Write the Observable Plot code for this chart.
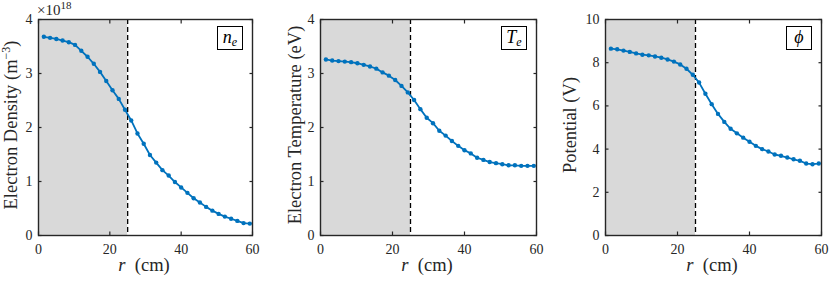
<!DOCTYPE html>
<html><head><meta charset="utf-8">
<script src="https://cdn.jsdelivr.net/npm/d3@7"></script>
<script src="https://cdn.jsdelivr.net/npm/@observablehq/plot@0.6"></script>
<style>
body{margin:0;background:#fff;}
#wrap{position:relative;width:830px;height:281px;font-family:"Liberation Serif","DejaVu Serif",serif;color:#262626;overflow:hidden;}
.pl{position:absolute;top:0;}
.xl{position:absolute;white-space:nowrap;font-size:18.5px;line-height:18px;transform:translateX(-50%);}
.yl{position:absolute;white-space:nowrap;font-size:18.5px;line-height:20px;transform:translate(-50%,-50%) rotate(-90deg);}
.box{position:absolute;border:1.5px solid #000;background:#fff;font-size:18px;line-height:20px;font-style:italic;text-align:center;box-sizing:border-box;color:#000;}
.box sub{font-size:12px;vertical-align:-3px;}
.yl sup{font-size:12px;vertical-align:7px;line-height:0;}
.exp{position:absolute;font-size:15px;line-height:15px;white-space:nowrap;}
.exp sup{font-size:11px;vertical-align:6px;line-height:0;}
</style></head>
<body><div id="wrap"></div>
<script>
// radial positions (cm)
const r = [1.5,3.25,5,6.75,8.5,10.25,12,13.75,15.5,17.25,19,20.75,22.5,24.25,26,27.75,29.5,31.25,33,34.75,36.5,38.25,40,41.75,43.5,45.25,47,48.75,50.5,52.25,54,55.75,57.5,59.25];
// electron density (x 10^18 m^-3)
const ne = [3.68,3.66,3.64,3.61,3.58,3.53,3.42,3.31,3.18,3.03,2.86,2.69,2.53,2.33,2.13,1.89,1.70,1.49,1.35,1.21,1.11,0.99,0.89,0.79,0.69,0.61,0.53,0.46,0.40,0.35,0.31,0.27,0.23,0.22];
// electron temperature (eV)
const Te = [3.26,3.24,3.23,3.22,3.21,3.19,3.16,3.13,3.09,3.02,2.96,2.88,2.77,2.65,2.51,2.34,2.18,2.08,1.94,1.85,1.75,1.66,1.58,1.52,1.44,1.40,1.36,1.34,1.32,1.30,1.30,1.29,1.29,1.29];
// potential (V)
const phi = [8.65,8.62,8.56,8.50,8.43,8.37,8.34,8.29,8.23,8.15,8.05,7.92,7.72,7.44,7.08,6.56,6.08,5.63,5.26,4.94,4.73,4.53,4.34,4.15,4.00,3.89,3.75,3.69,3.61,3.53,3.46,3.33,3.30,3.33];

const xTicks = [0,20,40,60];
const yTicks4 = [0,1,2,3,4];
const yTicks10 = [0,2,4,6,8,10];
const shade = [{x1:0, x2:25}];
const cutoff = [25];

const panels = [
  {vals: ne, dom:[0,4], ticks:yTicks4, ylabel:'Electron Density (m<sup>−3</sup>)', tag:'n<sub><i>e</i></sub>', exp:true},
  {vals: Te, dom:[0,4], ticks:yTicks4, ylabel:'Electron Temperature (eV)', tag:'T<sub><i>e</i></sub>'},
  {vals: phi, dom:[0,10], ticks:yTicks10, ylabel:'Potential (V)', tag:'ϕ'}
];
// layout: svg left, svg width, marginLeft, marginRight, ylabel offset
const layout = [
  {L:0, W:277, ml:38, mr:25, yo:27},
  {L:277, W:277, ml:43, mr:18, yo:25},
  {L:554, W:276, ml:51, mr:9, yo:35}
];
const MT = 19, MB = 46, H = 281;
const FF = '"Liberation Serif", "DejaVu Serif", serif';
const wrap = document.getElementById('wrap');
const blank = () => "";
const fmt = d3.format("d");

panels.forEach((p, k) => {
  const lo = layout[k];
  const data = r.map((x, i) => ({r: x, v: p.vals[i]}));
  const svg = Plot.plot({
    width: lo.W, height: H,
    marginLeft: lo.ml, marginRight: lo.mr, marginTop: MT, marginBottom: MB,
    x: {domain: [0, 60]},
    y: {domain: p.dom},
    style: {fontFamily: FF, fontSize: "14px", color: "#262626", background: "transparent", overflow: "visible"},
    marks: [
      Plot.rect(shade, {x1: "x1", x2: "x2", fill: "#d9d9d9"}),
      Plot.ruleX(cutoff, {stroke: "#000", strokeWidth: 1.3, strokeDasharray: "5,3"}),
      Plot.line(data, {x: "r", y: "v", stroke: "#0072bd", strokeWidth: 1.8}),
      Plot.dot(data, {x: "r", y: "v", r: 2.2, fill: "#0072bd"}),
      Plot.axisX(xTicks, {anchor: "bottom", tickSize: 0, tickPadding: 9, label: null, fontSize: 14, fontFamily: FF, tickFormat: fmt}),
      Plot.axisY(p.ticks, {anchor: "left", tickSize: 0, tickPadding: 6, label: null, fontSize: 14, fontFamily: FF, tickFormat: fmt}),
      Plot.axisX(xTicks, {anchor: "bottom", tickSize: 3.5, dy: -3.5, tickFormat: blank, label: null, strokeWidth: 1.2}),
      Plot.axisX(xTicks, {anchor: "top", tickSize: 3.5, dy: 3.5, tickFormat: blank, label: null, strokeWidth: 1.2}),
      Plot.axisY(p.ticks, {anchor: "left", tickSize: 3.5, dx: 3.5, tickFormat: blank, label: null, strokeWidth: 1.2}),
      Plot.axisY(p.ticks, {anchor: "right", tickSize: 3.5, dx: -3.5, tickFormat: blank, label: null, strokeWidth: 1.2}),
      Plot.frame({stroke: "#262626", strokeWidth: 1.4})
    ]
  });
  const d = document.createElement('div');
  d.className = 'pl';
  d.style.left = lo.L + 'px';
  d.appendChild(svg);
  wrap.appendChild(d);

  const fx0 = lo.L + lo.ml, fx1 = lo.L + lo.W - lo.mr;
  const fy0 = MT, fy1 = H - MB;
  // x label
  const xl = document.createElement('div');
  xl.className = 'xl';
  xl.innerHTML = '<i>r</i>&nbsp;&nbsp;(cm)';
  xl.style.left = ((fx0 + fx1) / 2 - 1) + 'px';
  xl.style.top = '256px';
  wrap.appendChild(xl);
  // y label
  const yl = document.createElement('div');
  yl.className = 'yl';
  yl.innerHTML = p.ylabel;
  yl.style.left = (fx0 - lo.yo) + 'px';
  yl.style.top = ((fy0 + fy1) / 2 - 2) + 'px';
  wrap.appendChild(yl);
  // tag box
  const b = document.createElement('div');
  b.className = 'box';
  b.innerHTML = '<i>' + p.tag + '</i>';
  b.style.left = (fx1 - 9 - 26) + 'px';
  b.style.top = '26px';
  b.style.width = '26px';
  b.style.height = '24px';
  wrap.appendChild(b);
  if (p.exp) {
    const e = document.createElement('div');
    e.className = 'exp';
    e.innerHTML = '×10<sup>18</sup>';
    e.style.left = (fx0 - 1) + 'px';
    e.style.top = '3px';
    wrap.appendChild(e);
  }
});
</script>
</body></html>
